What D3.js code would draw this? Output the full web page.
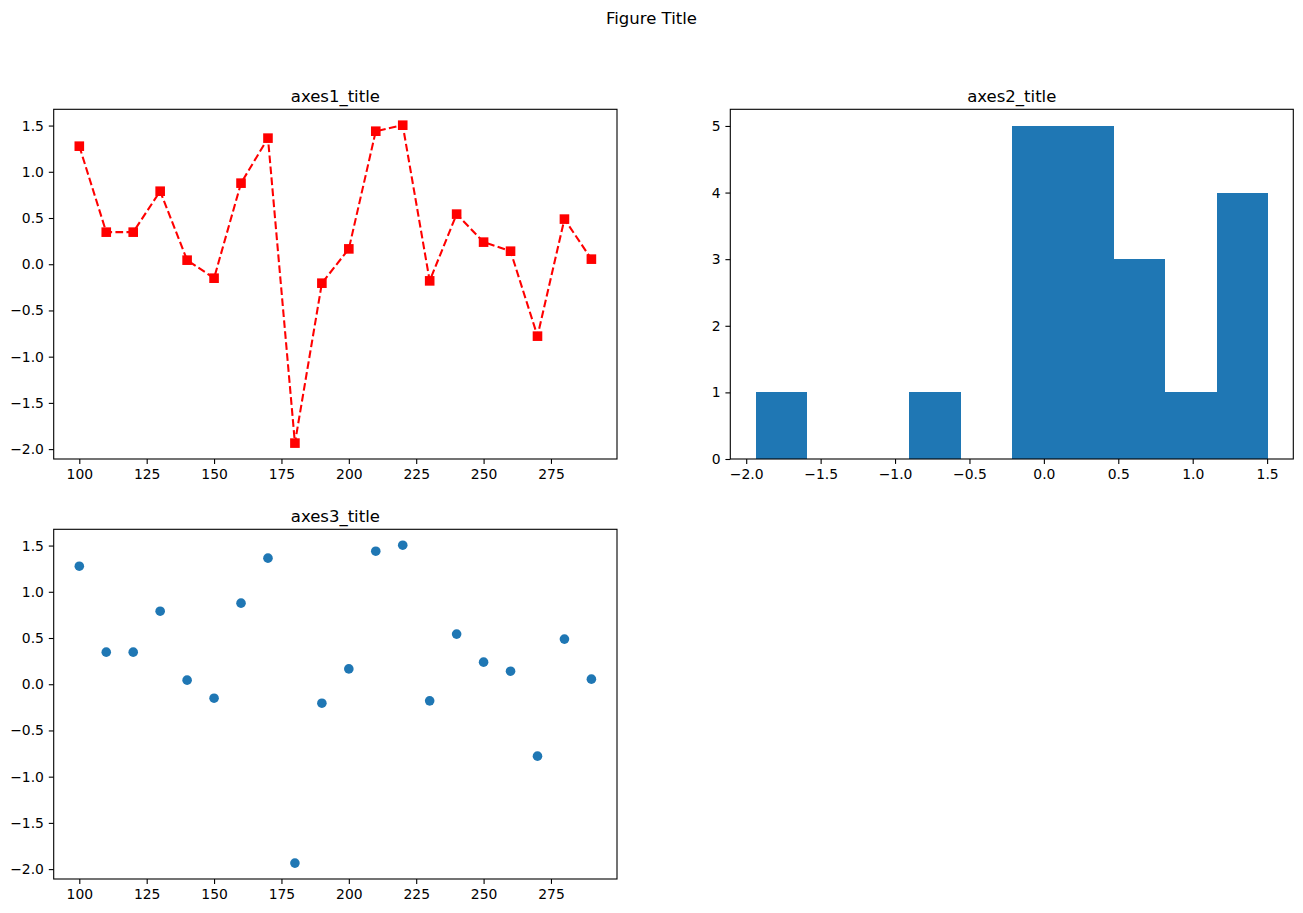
<!DOCTYPE html>
<html>
<head>
<meta charset="utf-8">
<script src="https://cdn.jsdelivr.net/npm/d3@7"></script>
<style>
  body { margin: 0; background: #fff; }
  svg text { font-family: "DejaVu Sans", sans-serif; fill: #000; }
</style>
</head>
<body>
<div id="chart"></div>
<script>
// data
const xValues = [100, 110, 120, 130, 140, 150, 160, 170, 180, 190,
                 200, 210, 220, 230, 240, 250, 260, 270, 280, 290];
const yValues = [1.277, 0.347, 0.347, 0.79, 0.044, -0.151, 0.877, 1.364, -1.935, -0.205,
                 0.166, 1.439, 1.504, -0.18, 0.542, 0.239, 0.141, -0.778, 0.488, 0.055];
const binCount = 10;
const lineTicks = [100, 125, 150, 175, 200, 225, 250, 275];
const valueTicks = [-2.0, -1.5, -1.0, -0.5, 0.0, 0.5, 1.0, 1.5];
const countTicks = [0, 1, 2, 3, 4, 5];
const titles = ["axes1_title", "axes2_title", "axes3_title"];
const figTitle = "Figure Title";

const W = 1303, H = 913;
const svg = d3.select("#chart").append("svg")
    .attr("width", W).attr("height", H);

svg.append("text")
    .attr("x", W / 2).attr("y", 24)
    .attr("text-anchor", "middle")
    .style("font-size", "16.5px")
    .text(figTitle);

// matplotlib style number format (unicode minus)
const fmt1 = d => d3.format(".1f")(d).replace("-", "\u2212");
const fmt0 = d => d3.format("d")(d).replace("-", "\u2212");

// pad a domain by 5% like matplotlib autoscale
function pad(ext) {
    const m = (ext[1] - ext[0]) * 0.05;
    return [ext[0] - m, ext[1] + m];
}

function makeAxes(box, xDomain, yDomain, xTicks, yTicks, xFmt, yFmt, title) {
    const g = svg.append("g").attr("transform", `translate(${box.x},${box.y})`);
    const x = d3.scaleLinear().domain(xDomain).range([0, box.w]);
    const y = d3.scaleLinear().domain(yDomain).range([box.h, 0]);
    const plot = g.append("g").attr("class", "plot");

    const xa = g.append("g").attr("transform", `translate(0,${box.h})`)
        .call(d3.axisBottom(x).tickValues(xTicks).tickFormat(xFmt).tickSize(4.9).tickPadding(4.9));
    const ya = g.append("g")
        .call(d3.axisLeft(y).tickValues(yTicks).tickFormat(yFmt).tickSize(4.9).tickPadding(4.9));
    [xa, ya].forEach(a => {
        a.select(".domain").remove();
        a.selectAll("line").attr("stroke", "#000").attr("stroke-width", 1.1);
        a.selectAll("text").style("font-size", "13.9px").attr("font-family", "DejaVu Sans");
    });

    g.append("rect")
        .attr("width", box.w).attr("height", box.h)
        .attr("fill", "none").attr("stroke", "#000").attr("stroke-width", 1.1);

    g.append("text")
        .attr("x", box.w / 2).attr("y", -7)
        .attr("text-anchor", "middle")
        .style("font-size", "16.5px")
        .text(title);
    return { plot, x, y };
}

const yExt = pad(d3.extent(yValues));
const xExt = pad(d3.extent(xValues));

const box1 = { x: 53.7, y: 109.3, w: 563.3, h: 349.7 };
const box2 = { x: 730.3, y: 109.3, w: 563, h: 349.7 };
const box3 = { x: 53.7, y: 529.3, w: 563.3, h: 349.7 };

// axes 1: dashed red line with square markers
const a1 = makeAxes(box1, xExt, yExt, lineTicks, valueTicks, fmt0, fmt1, titles[0]);
const pts = xValues.map((v, i) => [v, yValues[i]]);
a1.plot.append("path")
    .datum(pts)
    .attr("fill", "none")
    .attr("stroke", "#ff0000")
    .attr("stroke-width", 2.08)
    .attr("stroke-dasharray", "7.7,3.33")
    .attr("d", d3.line().x(d => a1.x(d[0])).y(d => a1.y(d[1])));
a1.plot.selectAll("rect.mk")
    .data(pts).enter().append("rect")
    .attr("class", "mk")
    .attr("x", d => a1.x(d[0]) - 4.8)
    .attr("y", d => a1.y(d[1]) - 4.8)
    .attr("width", 9.6).attr("height", 9.6)
    .attr("fill", "#ff0000");

// axes 2: histogram
const yMin = d3.min(yValues), yMax = d3.max(yValues);
const step = (yMax - yMin) / binCount;
const bins = d3.bin()
    .domain([yMin, yMax])
    .thresholds(d3.range(1, binCount).map(i => yMin + i * step))(yValues);
const a2 = makeAxes(box2, pad([yMin, yMax]), [0, 5.25], valueTicks, countTicks, fmt1, fmt0, titles[1]);
a2.plot.selectAll("rect")
    .data(bins).enter().append("rect")
    .attr("x", d => a2.x(d.x0))
    .attr("width", d => a2.x(d.x1) - a2.x(d.x0))
    .attr("y", d => a2.y(d.length))
    .attr("height", d => a2.y(0) - a2.y(d.length))
    .attr("fill", "#1f77b4")
    .attr("shape-rendering", "crispEdges");

// axes 3: scatter
const a3 = makeAxes(box3, xExt, yExt, lineTicks, valueTicks, fmt0, fmt1, titles[2]);
a3.plot.selectAll("circle")
    .data(pts).enter().append("circle")
    .attr("cx", d => a3.x(d[0]))
    .attr("cy", d => a3.y(d[1]))
    .attr("r", 4.8)
    .attr("fill", "#1f77b4");
</script>
</body>
</html>
